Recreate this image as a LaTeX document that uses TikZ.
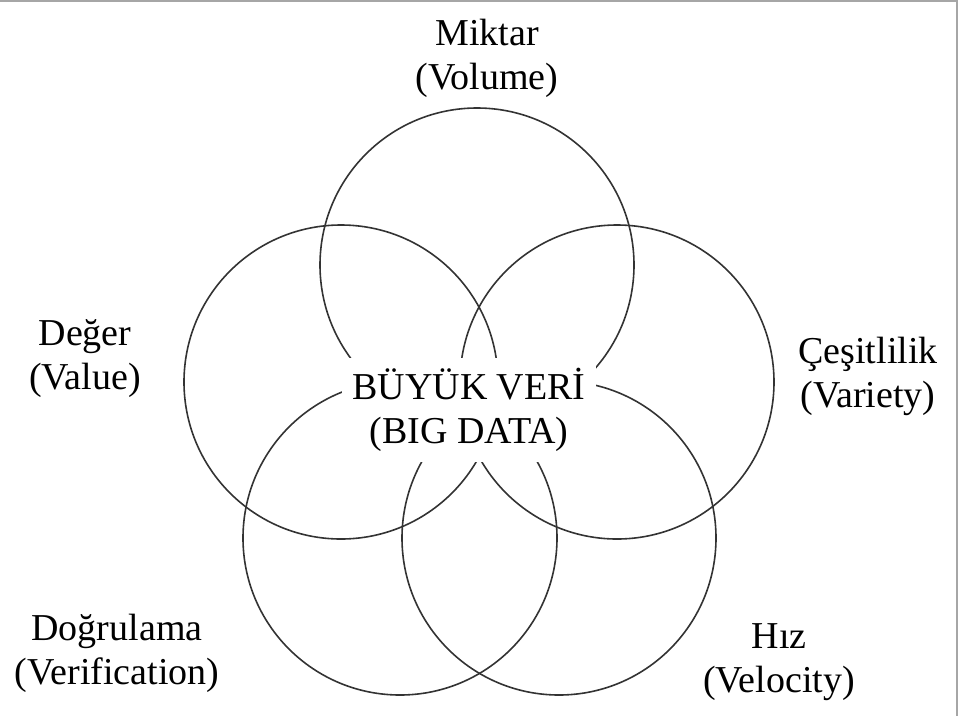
\documentclass[tikz,border=0pt]{standalone}
\usepackage{fontspec}
\setmainfont{Liberation Serif}
\usetikzlibrary{positioning}

\tikzset{
    ring/.style={circle, draw=black!80, line width=1.6pt, minimum size=314pt, inner sep=0pt},
    label text/.style={align=center, inner sep=0pt, font=\fontsize{38}{44}\selectfont},
    core/.style={label text, fill=white, inner xsep=10pt, inner ysep=10pt}
}

\begin{document}
\begin{tikzpicture}[x=1pt, y=-1pt]
        \useasboundingbox (0, 0) rectangle (962, 716);

        \foreach \name/\x/\y in {volume/477/265, value/341/382, variety/617/382, verification/400/538, velocity/559/538} {
            \node[ring] (\name) at (\x, \y) {};
        }

        \node[core] (bigdata) at (469, 410) {BÜYÜK VERİ\\(BIG DATA)};

        \node[label text] (miktar) at (487, 58) {Miktar\\(Volume)};
        \node[label text] (deger) at (85, 359) {Değer\\(Value)};
        \node[label text] (cesitlilik) at (868, 376) {Çeşitlilik\\(Variety)};
        \node[label text] (dogrulama) at (117, 653) {Doğrulama\\(Verification)};
        \node[label text] (hiz) at (779, 662) {Hız\\(Velocity)};

        \draw[line width=2pt, black!35] (0, 1) -- (958, 1)
            (957, 0) -- (957, 716);
    \end{tikzpicture}
\end{document}
